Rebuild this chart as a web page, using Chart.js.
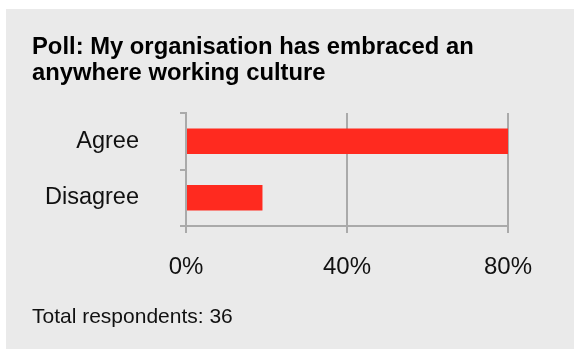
<!DOCTYPE html>
<html>
<head>
<meta charset="utf-8">
<script src="https://cdn.jsdelivr.net/npm/chart.js@4"></script>
<style>
  html, body { margin: 0; padding: 0; background: #ffffff; }
  #card {
    position: absolute;
    left: 6px;
    top: 9px;
    width: 568px;
    height: 340px;
    background: #eaeaea;
  }
</style>
</head>
<body>
<div id="card"><canvas id="poll" width="568" height="340"></canvas></div>
<script>
// poll answers and their share of respondents (%)
const answers = ['Agree', 'Disagree'];
const shares = [80, 19];
const titleLines = ['Poll: My organisation has embraced an', 'anywhere working culture'];
const footnote = 'Total respondents: 36';
const axisTicks = [0, 40, 80];

const FONT = "'Liberation Sans', Arial, Helvetica, sans-serif";
const LINE = '#aaaaaa';

new Chart(document.getElementById('poll'), {
  type: 'bar',
  data: {
    labels: answers,
    datasets: [{
      data: shares,
      backgroundColor: '#ff2a1f',
      borderWidth: 0,
      categoryPercentage: 1,
      barPercentage: 0.45
    }]
  },
  options: {
    indexAxis: 'y',
    responsive: false,
    animation: false,
    devicePixelRatio: 1,
    layout: { padding: { left: 26, right: 66, top: 0, bottom: 0 } },
    plugins: {
      legend: { display: false },
      tooltip: { enabled: false },
      title: {
        display: true,
        text: titleLines,
        align: 'start',
        color: '#000000',
        font: { family: FONT, size: 23.8, weight: 'bold', lineHeight: '26px' },
        padding: { top: 25, bottom: 27 }
      },
      subtitle: {
        display: true,
        text: footnote,
        position: 'bottom',
        align: 'start',
        color: '#111111',
        font: { family: FONT, size: 21, lineHeight: '22px' },
        padding: { top: 0, bottom: 21 }
      }
    },
    scales: {
      x: {
        min: 0,
        max: 80,
        afterBuildTicks: s => { s.ticks = axisTicks.map(v => ({ value: v })); },
        afterFit: s => { s.height = 80; },
        ticks: {
          callback: v => v + '%',
          color: '#111111',
          font: { family: FONT, size: 24 },
          padding: 20,
          maxRotation: 0
        },
        grid: { color: LINE, lineWidth: 2, tickLength: 7, tickColor: LINE },
        border: { color: LINE, width: 2 }
      },
      y: {
        afterFit: s => { s.width = 154; },
        ticks: {
          color: '#111111',
          font: { family: FONT, size: 23.5 },
          padding: 41
        },
        grid: { drawOnChartArea: false, offset: true, color: LINE, lineWidth: 2, tickLength: 6 },
        border: { color: LINE, width: 2 }
      }
    }
  }
});
</script>
</body>
</html>
